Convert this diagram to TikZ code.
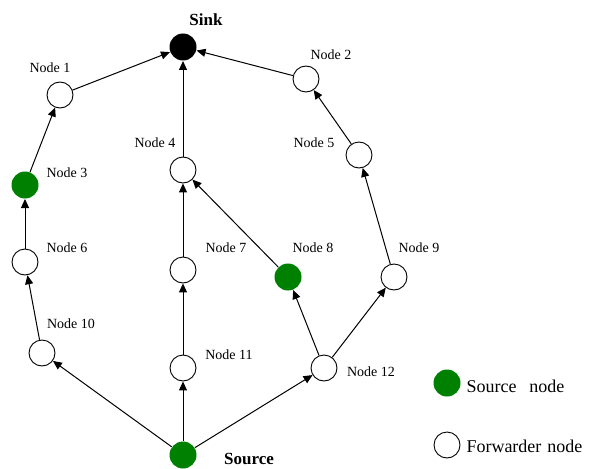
\documentclass[tikz,border=0pt]{standalone}
\usepackage{fontspec}
\setmainfont{Liberation Serif}
\usepackage{tikz}
\usetikzlibrary{arrows.meta}
\definecolor{srcgreen}{RGB}{0,128,0}
\tikzset{
  fwd/.style={circle, draw, line width=0.9pt, minimum size=26pt, inner sep=0pt, fill=white},
  srcnode/.style={circle, fill=srcgreen, minimum size=27pt, inner sep=0pt},
  sinknode/.style={circle, fill=black, minimum size=27pt, inner sep=0pt},
  lbl/.style={inner sep=0pt, font=\fontsize{14}{16}\selectfont},
  bigl/.style={inner sep=0pt, font=\fontsize{17}{19}\selectfont\bfseries},
  legl/.style={inner sep=0pt, anchor=west, font=\fontsize{18}{20}\selectfont}
}

\begin{document}
\begin{tikzpicture}[x=1pt, y=-1pt, -{Triangle[length=9pt,width=8pt]}, line width=1pt]
\useasboundingbox (0,0) rectangle (593,468);
\node[sinknode] (Sink) at (183,47) {};
\node[fwd] (N1) at (60,95) {};
\node[fwd] (N2) at (306,79) {};
\node[srcnode] (N3) at (25,185) {};
\node[fwd] (N4) at (183,170) {};
\node[fwd] (N5) at (359,155) {};
\node[fwd] (N6) at (25,262) {};
\node[fwd] (N7) at (183,270) {};
\node[srcnode] (N8) at (288,277) {};
\node[fwd] (N9) at (394,277) {};
\node[fwd] (N10) at (42,353) {};
\node[fwd] (N11) at (183,368) {};
\node[fwd] (N12) at (324,368) {};
\node[srcnode] (Src) at (183,455) {};
% labels
\node[bigl] (LSink) at (206,20) {Sink};
\node[bigl] (LSrc) at (249,459) {Source};
\node[lbl] (L1) at (50,68) {Node 1};
\node[lbl] (L2) at (331,55) {Node 2};
\node[lbl] (L3) at (67,173) {Node 3};
\node[lbl] (L4) at (155,143) {Node 4};
\node[lbl] (L5) at (314,143) {Node 5};
\node[lbl] (L6) at (67,248) {Node 6};
\node[lbl] (L7) at (226,248) {Node 7};
\node[lbl] (L8) at (313,248) {Node 8};
\node[lbl] (L9) at (419,248) {Node 9};
\node[lbl] (L10) at (71,324) {Node 10};
\node[lbl] (L11) at (229,355) {Node 11};
\node[lbl] (L12) at (371,372) {Node 12};
% legend
\node[srcnode] (KSrc) at (447,383) {};
\node[fwd] (KFwd) at (447,445) {};
\node[legl] (KSrcT) at (466,386) {Source\hspace{13pt}node};
\node[legl] (KFwdT) at (466,446) {Forwarder\hspace{6pt}node};
% links
\draw (N1) -- (Sink);
\draw (N2) -- (Sink);
\draw (N4) -- (Sink);
\draw (N3) -- (N1);
\draw (N5) -- (N2);
\draw (N6) -- (N3);
\draw (N7) -- (N4);
\draw (N8) -- (N4);
\draw (N9) -- (N5);
\draw (N10) -- (N6);
\draw (N11) -- (N7);
\draw (N12) -- (N8);
\draw (N12) -- (N9);
\draw (Src) -- (N10);
\draw (Src) -- (N11);
\draw (Src) -- (N12);
\end{tikzpicture}
\end{document}
